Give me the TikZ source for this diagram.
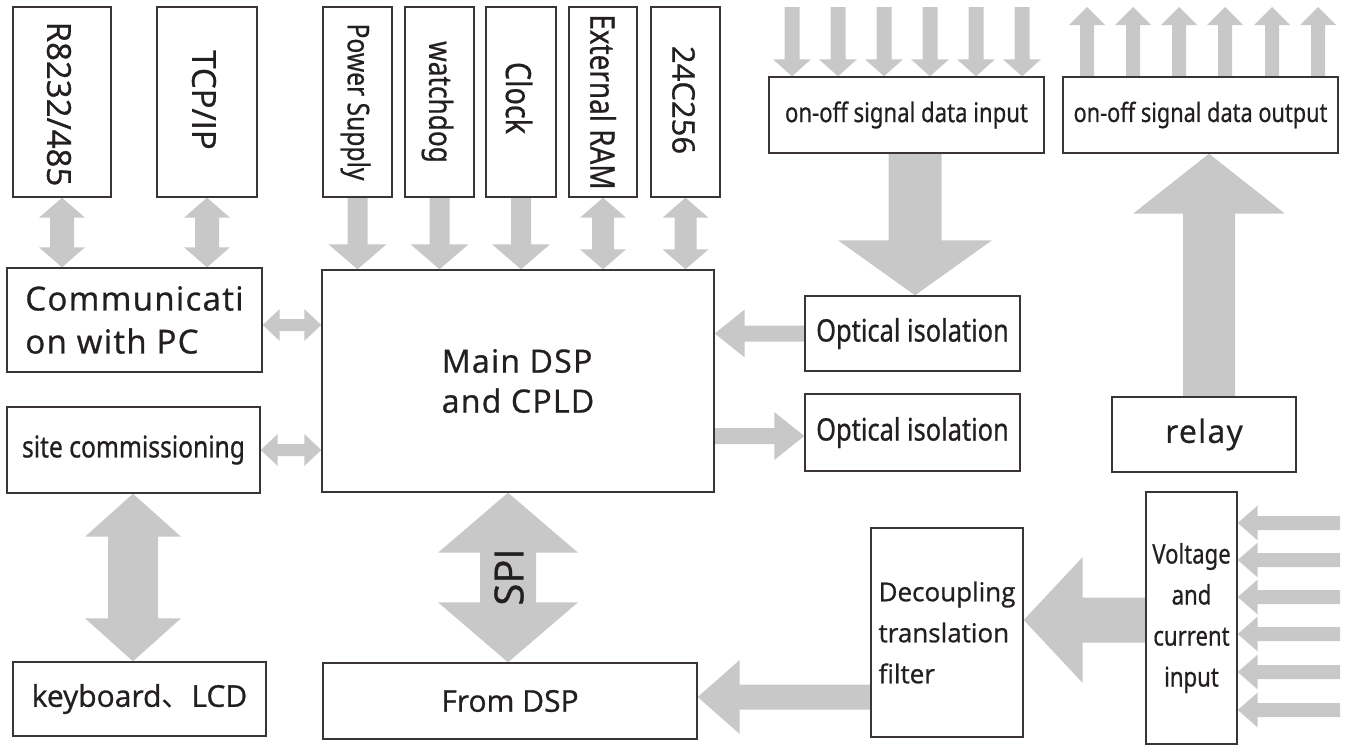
\documentclass[tikz,border=0pt]{standalone}
\usepackage{fontspec}
\setmainfont[FakeBold=0.9]{Open Sans}
\newfontfamily\wfont[LetterSpace=4,FakeBold=0.9]{Open Sans}
\newfontfamily\cfont[FakeStretch=0.82,FakeBold=0.6]{Noto Sans}
\newfontfamily\cjk{Noto Sans CJK SC}
\usetikzlibrary{calc}
\definecolor{arrc}{HTML}{C8C8C8}
\definecolor{boxc}{HTML}{3A3434}
\definecolor{txtc}{HTML}{231F20}
\pgfdeclarelayer{bg}\pgfsetlayers{bg,main}
% single block arrow: #1 from, #2 to (tip), #3 half shaft, #4 half head, #5 head length
\newcommand\sarr[5]{%
  \coordinate (tmpH) at ($(#2)!#5pt!(#1)$);
  \fill[arrc] ($(#1)!#3pt!90:(#2)$) -- ($(tmpH)!#3pt!90:(#2)$) -- ($(tmpH)!#4pt!90:(#2)$) -- (#2)
    -- ($(tmpH)!#4pt!-90:(#2)$) -- ($(tmpH)!#3pt!-90:(#2)$) -- ($(#1)!#3pt!-90:(#2)$) -- cycle;}
% double block arrow
\newcommand\darr[5]{%
  \coordinate (tmpA) at ($(#1)!#5pt!(#2)$);
  \coordinate (tmpB) at ($(#2)!#5pt!(#1)$);
  \fill[arrc] (#1) -- ($(tmpA)!#4pt!90:(#2)$) -- ($(tmpA)!#3pt!90:(#2)$) -- ($(tmpB)!#3pt!-90:(#1)$)
    -- ($(tmpB)!#4pt!-90:(#1)$) -- (#2) -- ($(tmpB)!#4pt!90:(#1)$) -- ($(tmpB)!#3pt!90:(#1)$)
    -- ($(tmpA)!#3pt!-90:(#2)$) -- ($(tmpA)!#4pt!-90:(#2)$) -- cycle;}
\tikzset{
  box/.style={draw=boxc, line width=1.4pt, inner sep=0pt, text=txtc},
  lbl/.style={inner sep=0pt, text=txtc},
}
\begin{document}
\begin{tikzpicture}[x=1pt, y=-1pt]
\useasboundingbox (0,0) rectangle (1349,745);
% top boxes
\node[box, minimum width=98pt, minimum height=190pt] (r232) at (62,102) {};
\node[box, minimum width=100pt, minimum height=190pt] (tcp) at (207,102) {};
\node[box, minimum width=69pt, minimum height=190pt] (ps) at (357.5,102) {};
\node[box, minimum width=69pt, minimum height=190pt] (wd) at (439.5,102) {};
\node[box, minimum width=70pt, minimum height=190pt] (clk) at (521,102) {};
\node[box, minimum width=68pt, minimum height=190pt] (ram) at (603,102) {};
\node[box, minimum width=69pt, minimum height=190pt] (eep) at (685.5,102) {};
\node[lbl, rotate=-90, font=\fontsize{33}{40}\selectfont] (r232t) at ($(r232)+(-3,2)$) {R8232/485};
\node[lbl, rotate=-90, font=\fontsize{33}{40}\selectfont] (tcpt) at ($(tcp)+(-3,-2)$) {TCP/IP};
\node[lbl, rotate=-90, font=\cfont\fontsize{30}{40}\selectfont] (pst) at ($(ps)+(-2,0)$) {Power Supply};
\node[lbl, rotate=-90, font=\cfont\fontsize{32}{40}\selectfont] (wdt) at ($(wd)+(-2,0)$) {watchdog};
\node[lbl, rotate=-90, font=\cfont\fontsize{35}{40}\selectfont] (clkt) at ($(clk)+(-2,-4)$) {Clock};
\node[lbl, rotate=-90, font=\cfont\fontsize{34}{40}\selectfont] (ramt) at ($(ram)+(0,0)$) {External RAM};
\node[lbl, rotate=-90, font=\fontsize{31}{40}\selectfont] (eept) at ($(eep)+(-2,-2)$) {24C256};
% left boxes
\node[box, minimum width=255pt, minimum height=104pt, align=left, font=\wfont\fontsize{33}{43}\selectfont] (comm) at (134.5,320) {Communicati\\on with PC};
\node[box, minimum width=253pt, minimum height=86pt, font=\cfont\fontsize{30}{36}\selectfont] (site) at (133.5,450) {site commissioning};
\node[box, minimum width=253pt, minimum height=74pt, font=\fontsize{30}{36}\selectfont] (kbd) at (139.5,699) {keyboard{\cjk 、}LCD};
% center
\node[box, minimum width=392pt, minimum height=222pt, align=left, font=\wfont\fontsize{32}{40}\selectfont] (main) at (518,381) {Main DSP\\and CPLD};
\node[box, minimum width=374pt, minimum height=76pt, font=\fontsize{30}{36}\selectfont] (fdsp) at (510,701) {From DSP};
% right
\node[box, minimum width=275pt, minimum height=76pt, font=\cfont\fontsize{27}{36}\selectfont] (sin) at (906.5,115) {on-off signal data input};
\node[box, minimum width=275pt, minimum height=76pt, font=\cfont\fontsize{26.5}{36}\selectfont] (sout) at (1200.5,115) {on-off signal data output};
\node[box, minimum width=215pt, minimum height=75pt, font=\cfont\fontsize{31}{36}\selectfont] (oi1) at (912.5,333.5) {Optical isolation};
\node[box, minimum width=215pt, minimum height=77pt, font=\cfont\fontsize{31}{36}\selectfont] (oi2) at (912.5,432.5) {Optical isolation};
\node[box, minimum width=184pt, minimum height=75pt, font=\wfont\fontsize{32}{36}\selectfont] (relay) at (1204,434.5) {relay};
\node[box, minimum width=152pt, minimum height=209pt, align=left, font=\fontsize{26}{41}\selectfont] (dec) at (947,632.5) {Decoupling\\translation\\filter};
\node[box, minimum width=91pt, minimum height=252pt, align=center, font=\cfont\fontsize{27}{41}\selectfont] (vci) at (1191.5,618) {Voltage\\and\\current\\input};
\node[lbl, rotate=90, font=\fontsize{40}{44}\selectfont] (spi) at (509,577) {SPI};

\begin{pgfonlayer}{bg}
% top connectors
\coordinate (a1) at (comm.north -| r232.south); \darr{r232.south}{a1}{12}{23}{20}
\coordinate (a2) at (comm.north -| tcp.south); \darr{tcp.south}{a2}{12}{23}{20}
\coordinate (a3) at (main.north -| ps.south); \sarr{ps.south}{a3}{10}{29}{25}
\coordinate (a4) at (main.north -| wd.south); \sarr{wd.south}{a4}{10}{29}{25}
\coordinate (a5) at (main.north -| clk.south); \sarr{clk.south}{a5}{10}{29}{25}
\coordinate (a6) at (main.north -| ram.south); \darr{ram.south}{a6}{11}{23}{20}
\coordinate (a7) at (main.north -| eep.south); \darr{eep.south}{a7}{11}{23}{20}
% left side
\coordinate (h1) at ($(comm.east)+(0,5)$); \coordinate (h2) at (main.west |- h1); \darr{h1}{h2}{6}{16}{17}
\coordinate (h3) at (main.west |- site.east); \darr{site.east}{h3}{6}{16}{17}
\coordinate (k1) at ($(site.south)+(-0.5,0)$); \coordinate (k2) at (kbd.north -| k1); \darr{k1}{k2}{25}{48}{43}
% SPI
\coordinate (s1) at ($(main.south)+(-10,0)$); \coordinate (s2) at (fdsp.north -| s1); \darr{s1}{s2}{28}{70}{60}
% right side
\coordinate (n1) at ($(sin.south)+(8.5,0)$); \coordinate (n2) at (oi1.north -| n1); \sarr{n1}{n2}{26.5}{77}{55}
\coordinate (m1) at (main.east |- oi1.west); \sarr{oi1.west}{m1}{8}{24}{30}
\coordinate (m2) at ($(main.east |- oi2.west)+(0,3.5)$); \coordinate (m3) at (oi2.west |- m2); \sarr{m2}{m3}{8}{24}{30}
\coordinate (r1) at ($(relay.north)+(5,0)$); \coordinate (r2) at (sout.south -| r1); \sarr{r1}{r2}{26}{76}{60}
\coordinate (v1) at ($(vci.west)+(0,2)$); \coordinate (v2) at (dec.east |- v1); \sarr{v1}{v2}{22.5}{63}{59}
\coordinate (d1) at ($(dec.west |- fdsp.east)+(0,-4)$); \coordinate (d2) at (fdsp.east |- d1); \sarr{d1}{d2}{12.5}{37}{42}
% signal inputs
\foreach \xx [count=\i] in {792,838,884,930,976,1022} {
  \coordinate (ia\i) at (\xx,7); \coordinate (ib\i) at (sin.north -| ia\i); \sarr{ia\i}{ib\i}{7.5}{19}{17}
}
% signal outputs
\foreach \xx [count=\i] in {1087,1133,1179,1225,1272,1318} {
  \coordinate (oa\i) at (\xx,7); \coordinate (ob\i) at (sout.north -| oa\i); \sarr{ob\i}{oa\i}{7}{18}{18}
}
% voltage/current inputs
\foreach \yy [count=\i] in {523,560,597,634,672,710} {
  \coordinate (va\i) at (1340,\yy); \coordinate (vb\i) at (vci.east |- va\i); \sarr{va\i}{vb\i}{7}{17.5}{20}
}
\end{pgfonlayer}
\end{tikzpicture}
\end{document}
